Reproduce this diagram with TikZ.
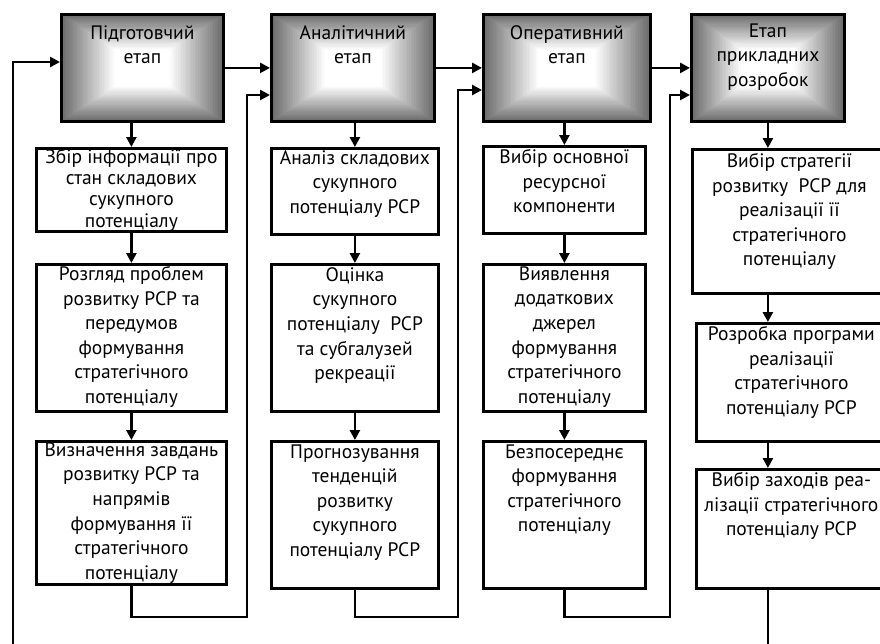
\documentclass[tikz,border=0pt]{standalone}
\usepackage{fontspec}
\setmainfont{PT Sans}
\usetikzlibrary{arrows.meta,calc}

\newcommand{\boxtext}[4]{\parbox[t][#2][t]{#1}{\centering\vspace*{#3}#4}}

\tikzset{
  stage/.style={draw, line width=2.8pt, inner sep=0pt, anchor=north west,
    % rectangular gradient: grey rim, white centre
    path picture={
      \foreach \k in {0,...,48}{
        \pgfmathsetmacro\f{1-\k/48}
        \pgfmathsetmacro\c{max(0,58-1.85*\k)}
        \fill[black!\c]
          ($(path picture bounding box.center)!\f!(path picture bounding box.south west)$)
          rectangle
          ($(path picture bounding box.center)!\f!(path picture bounding box.north east)$);
      }}},
  stepbox/.style={draw, line width=2.8pt, fill=white, inner sep=0pt, anchor=north west},
  arr/.style={line width=2.8pt, -{Triangle[length=10pt,width=10pt]}},
}

\begin{document}
\begin{tikzpicture}[x=1pt, y=-1pt, font=\fontsize{19.5}{24.6}\selectfont]

 \useasboundingbox (0,0) rectangle (880,643);
 \clip (0,0) rectangle (880,643);

 % Stages
 \node[stage] (h1) at (60,13) {\boxtext{162pt}{107pt}{11pt}{Підготовчий\\етап}};
 \node[stage] (h2) at (270,13) {\boxtext{163pt}{107pt}{11pt}{Аналітичний\\етап}};
 \node[stage] (h3) at (482,13) {\boxtext{167pt}{107pt}{11pt}{Оперативний\\етап}};
 \node[stage] (h4) at (690,13) {\boxtext{153pt}{107pt}{9pt}{Етап\\прикладних\\розробок}};

 % Column of the preparatory stage
 \node[stepbox, font=\fontsize{19.5}{21.2}\selectfont] (a1) at (35,147) {\boxtext{190pt}{83pt}{1pt}{Збір інформації про\\стан складових\\сукупного\\потенціалу}};
 \node[stepbox] (a2) at (35,263) {\boxtext{190pt}{147pt}{2pt}{Розгляд проблем\\розвитку РСР та\\передумов\\формування\\стратегічного\\потенціалу}};
 \node[stepbox] (a3) at (35,440) {\boxtext{190pt}{143pt}{1pt}{Визначення завдань\\розвитку РСР та\\напрямів\\формування її\\стратегічного\\потенціалу}};

 % Column of the analytical stage
 \node[stepbox] (b1) at (270,147) {\boxtext{167pt}{86pt}{2pt}{Аналіз складових\\сукупного\\потенціалу РСР}};
 \node[stepbox] (b2) at (270,263) {\boxtext{167pt}{147pt}{3pt}{Оцінка\\сукупного\\потенціалу\ \ РСР\\та субгалузей\\рекреації}};
 \node[stepbox] (b3) at (270,440) {\boxtext{167pt}{147pt}{3pt}{Прогнозування\\тенденцій\\розвитку\\сукупного\\потенціалу РСР}};

 % Column of the operative stage
 \node[stepbox] (c1) at (482,145) {\boxtext{162pt}{87pt}{3pt}{Вибір основної\\ресурсної\\компоненти}};
 \node[stepbox] (c2) at (482,263) {\boxtext{162pt}{147pt}{2pt}{Виявлення\\додаткових\\джерел\\формування\\стратегічного\\потенціалу}};
 \node[stepbox] (c3) at (482,440) {\boxtext{162pt}{147pt}{3pt}{Безпосереднє\\формування\\стратегічного\\потенціалу}};

 % Column of the applied stage (runs past the right edge)
 \node[stepbox] (d1) at (691,148) {\boxtext{194pt}{144pt}{4pt}{Вибір стратегії\\розвитку\ \ РСР для\\реалізації її\\стратегічного\\потенціалу}};
 \node[stepbox] (d2) at (695,322) {\boxtext{190pt}{118pt}{3pt}{Розробка програми\\реалізації\\стратегічного\\потенціалу РСР}};
 \node[stepbox] (d3) at (695,468) {\boxtext{190pt}{119pt}{3pt}{Вибір заходів реа-\\лізації стратегічного\\потенціалу РСР}};

 % From stage to stage
 \draw[arr] (h1.east) -- (h2.west);
 \draw[arr] (h2.east) -- (h3.west);
 \draw[arr] (h3.east) -- (h4.west);

 % Down each column
 \draw[arr] (a1.north |- h1.south) -- (a1.north);
 \draw[arr] (a1.south) -- (a2.north);
 \draw[arr] (a2.south) -- (a3.north);

 \draw[arr] (b1.north |- h2.south) -- (b1.north);
 \draw[arr] (b1.south) -- (b2.north);
 \draw[arr] (b2.south) -- (b3.north);

 \draw[arr] (c1.north |- h3.south) -- (c1.north);
 \draw[arr] (c1.south) -- (c2.north);
 \draw[arr] (c2.south) -- (c3.north);

 \draw[arr] (h4.south) -- (h4.south |- d1.north);
 \draw[arr] (h4.south |- d1.south) -- (h4.south |- d2.north);
 \draw[arr] (h4.south |- d2.south) -- (h4.south |- d3.north);

 % Feedback: each column's result goes on into the next stage
 \coordinate (low) at (0,617);
 \coordinate (bottom) at (0,660);
 \coordinate (g0) at (13,62);
 \coordinate (g1) at (247,95);
 \coordinate (g2) at (458,90);
 \coordinate (g3) at (670,95);

 \draw[arr] (a3.south) |- (low -| g1) -- (g1) -- (g1 -| h2.west);
 \draw[arr] (b3.south) |- (low -| g2) -- (g2) -- (g2 -| h3.west);
 \draw[arr] (c3.south) |- (low -| g3) -- (g3) -- (g3 -| h4.west);
 \draw[arr] (h4.south |- d3.south) |- (bottom -| g0) -- (g0) -- (g0 -| h1.west);

\end{tikzpicture}
\end{document}
